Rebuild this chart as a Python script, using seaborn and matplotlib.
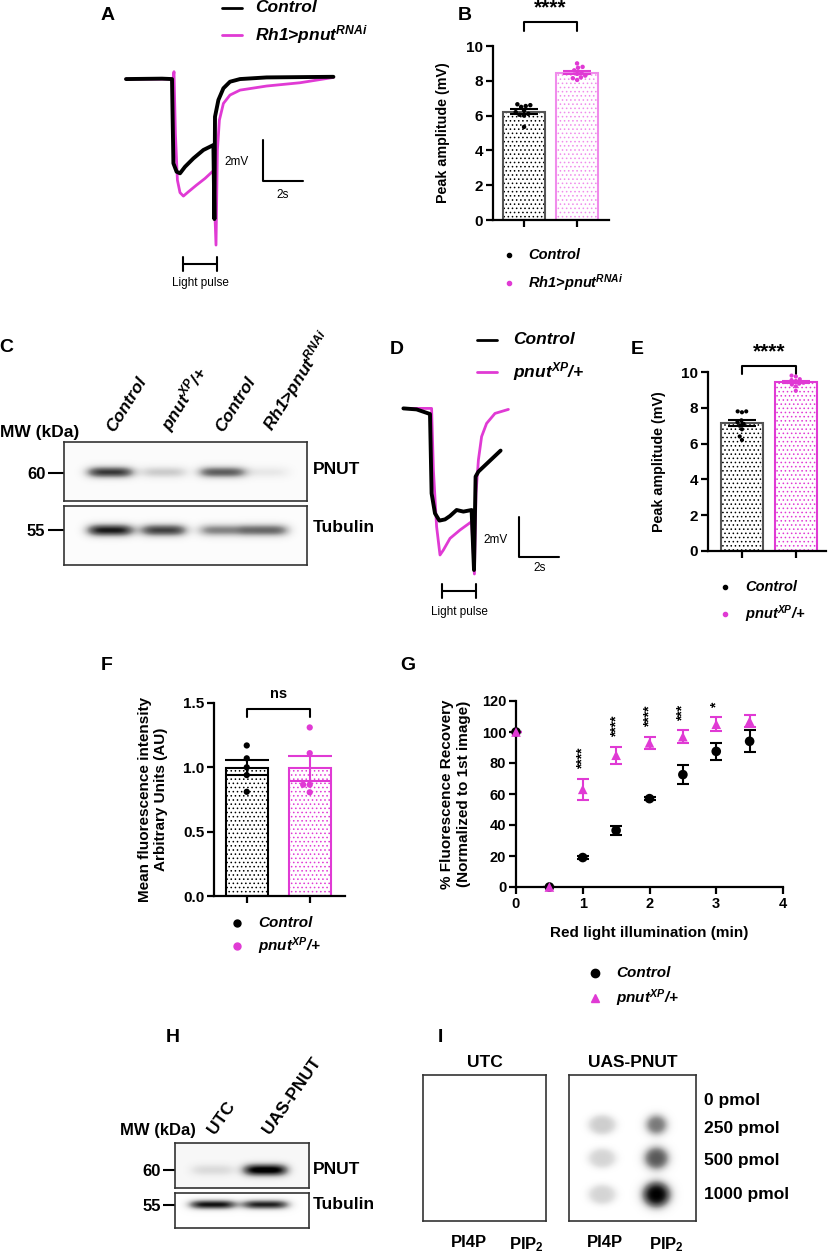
import numpy as np
import pandas as pd
import matplotlib.pyplot as plt
import seaborn as sns
from matplotlib.lines import Line2D

sns.set_theme(style="ticks", rc={"axes.edgecolor": "black", "xtick.color": "black",
                                 "ytick.color": "black", "axes.labelcolor": "black",
                                 "text.color": "black"})
plt.rcParams["font.family"] = ["Liberation Sans", "DejaVu Sans"]
plt.rcParams["font.weight"] = "bold"
plt.rcParams["axes.labelweight"] = "bold"
plt.rcParams["mathtext.fontset"] = "custom"
plt.rcParams["mathtext.rm"] = "Liberation Sans:bold"
plt.rcParams["mathtext.it"] = "Liberation Sans:italic:bold"
plt.rcParams["mathtext.bf"] = "Liberation Sans:bold"
plt.rcParams["hatch.linewidth"] = 0.6

MAG = "#E03AD4"
MAG_LIGHT = "#F08CEB"

# ---------------- data ----------------
# A: photoreceptor traces (time s, voltage mV)
a_ctrl_t = [-2.3, -0.5, 0.0, 0.07, 0.23, 0.4, 0.65, 1.07, 1.57, 2.07, 2.12, 2.15, 2.32, 2.57, 2.9, 3.4, 4.73, 8.07]
a_ctrl_v = [0.0, 0.02, 0.0, -4.11, -4.52, -4.6, -4.28, -3.87, -3.46, -3.22, -6.83, -1.84, -1.02, -0.45, -0.13, 0.0, 0.08, 0.11]
a_rnai_t = [-2.3, 0.05, 0.1, 0.17, 0.27, 0.4, 0.57, 0.82, 1.23, 1.65, 2.07, 2.2, 2.27, 2.37, 2.57, 2.9, 3.4, 4.73, 6.4, 8.07]
a_rnai_v = [0.0, 0.0, 0.36, -2.65, -4.93, -5.54, -5.71, -5.5, -5.17, -4.85, -4.47, -8.1, -3.46, -2.0, -1.19, -0.78, -0.54, -0.34, -0.18, 0.08]

# B: peak amplitude (mV)
b_ctrl = [6.65, 6.6, 6.55, 6.5, 6.3, 6.2, 6.1, 6.05, 6.0, 5.35]
b_rnai = [9.0, 8.8, 8.75, 8.6, 8.5, 8.4, 8.3, 8.2, 8.15, 8.05]

# C: western blot band intensity (0..1)
c_lanes = ["Control", "pnut$^{XP}$/+", "Control", "Rh1>pnut$^{RNAi}$"]
c_pnut = [0.8, 0.28, 0.68, 0.14]
c_tub = [0.9, 0.78, 0.55, 0.65]

# D: traces
d_ctrl_t = [-1.38, -0.72, -0.05, 0.03, 0.2, 0.42, 0.7, 0.95, 1.28, 1.62, 2.03, 2.15, 2.23, 2.37, 3.48]
d_ctrl_v = [0.03, -0.02, -0.25, -4.22, -5.22, -5.58, -5.52, -5.35, -5.05, -5.13, -5.05, -8.05, -3.38, -3.13, -2.08]
d_pnut_t = [-1.38, 0.03, 0.12, 0.28, 0.45, 0.62, 0.95, 1.45, 2.03, 2.17, 2.25, 2.37, 2.53, 2.78, 3.2, 3.87]
d_pnut_v = [0.03, 0.03, -3.05, -5.88, -7.3, -7.05, -6.47, -6.05, -5.63, -8.25, -4.22, -2.55, -1.38, -0.72, -0.22, -0.02]

# E: peak amplitude (mV)
e_ctrl = [7.8, 7.75, 7.8, 7.3, 7.2, 7.1, 7.0, 6.8, 6.4, 6.2]
e_pnut = [9.8, 9.75, 9.6, 9.55, 9.5, 9.4, 9.35, 9.3, 9.2, 8.95]

# F: mean fluorescence intensity (AU)
f_ctrl = [1.17, 1.07, 1.0, 0.94, 0.81]
f_pnut = [1.31, 1.11, 0.865, 0.865, 0.806]

# G: fluorescence recovery (%)
g_time = [0, 0.5, 1, 1.5, 2, 2.5, 3, 3.5]
g_ctrl = [100, 0, 19, 36.5, 57, 72.5, 87.5, 94]
g_ctrl_err = [0, 0, 1, 3, 1, 6, 5.5, 7]
g_pnut = [100, 0, 63, 85, 93, 97, 105, 107]
g_pnut_err = [0, 0, 7, 5.5, 4, 4, 4.5, 4]
g_star_idx = [2, 3, 4, 5, 6]
g_stars = ["****", "****", "****", "***", "*"]

# H: western blot
h_lanes = ["UTC", "UAS-PNUT"]
h_pnut = [0.18, 1.0]
h_tub = [0.95, 0.9]

# I: lipid dot blot
i_rows = ["0 pmol", "250 pmol", "500 pmol", "1000 pmol"]
i_cols = ["PI4P", "PIP$_2$"]
i_utc_pi4p = [0, 0, 0, 0]
i_utc_pip2 = [0, 0, 0, 0]
i_uas_pi4p = [0, 0.3, 0.27, 0.27]
i_uas_pip2 = [0, 0.6, 0.72, 1.0]

# ---------------- layout helpers ----------------
W, H = 830, 1255
fig = plt.figure(figsize=(W / 100, H / 100), dpi=100)


def px_axes(x0, y0, x1, y1):
    return fig.add_axes([x0 / W, 1 - y1 / H, (x1 - x0) / W, (y1 - y0) / H])


def ftext(x, y, s, **kw):
    fig.text(x / W, 1 - y / H, s, **kw)


def fmark(x, y, **kw):
    fig.add_artist(Line2D([x / W], [1 - y / H], transform=fig.transFigure, linestyle="none", **kw))


def fseg(x0, x1, y, **kw):
    fig.add_artist(Line2D([x0 / W, x1 / W], [1 - y / H, 1 - y / H], transform=fig.transFigure, **kw))


def style_axes(ax, labelsize):
    sns.despine(ax=ax)
    for s in ["left", "bottom"]:
        ax.spines[s].set_linewidth(1.6)
    ax.tick_params(width=1.6, length=5, labelsize=labelsize, pad=2)
    for lbl in ax.get_yticklabels() + ax.get_xticklabels():
        lbl.set_fontweight("bold")


def trace_panel(ax, traces, xlim, ylim, bar_t, bar_v, mv_pos, s_pos, pulse, pulse_y, pulse_txt):
    for t, v, c, lw in traces:
        sns.lineplot(x=t, y=v, color=c, linewidth=lw, sort=False, estimator=None, ax=ax)
    ax.set_xlim(*xlim)
    ax.set_ylim(*ylim)
    ax.axis("off")
    ax.plot([bar_t, bar_t, bar_t + 2], [bar_v + 2, bar_v, bar_v], color="black", lw=1.5)
    ax.text(*mv_pos, "2mV", ha="center", va="center", fontsize=8.5, fontweight="normal")
    ax.text(*s_pos, "2s", ha="center", va="center", fontsize=8.5, fontweight="normal")
    ax.plot(pulse, [pulse_y, pulse_y], color="black", lw=1.5)
    for p in pulse:
        ax.plot([p, p], [pulse_y - 0.35, pulse_y + 0.35], color="black", lw=1.5)
    ax.text(*pulse_txt, "Light pulse", ha="center", va="center", fontsize=8.5, fontweight="normal")


def bar_panel(ax, values, labels, edges, hatchc, ptc, width, ptsize, cap):
    df = pd.DataFrame({"group": np.repeat(labels, [len(v) for v in values]),
                       "value": np.concatenate(values)})
    sns.barplot(data=df, x="group", y="value", order=labels, errorbar=None,
                width=width, color="white", ax=ax, zorder=1)
    bars = list(ax.patches)
    for p, hc in zip(bars, hatchc):
        p.set_facecolor("white")
        p.set_edgecolor(hc)
        p.set_linewidth(0)
        p.set_hatch("....")
    for p, ec in zip(bars, edges):
        ax.add_patch(plt.Rectangle(p.get_xy(), p.get_width(), p.get_height(),
                                   fill=False, edgecolor=ec, lw=1.5, zorder=2))
    sns.swarmplot(data=df, x="group", y="value", order=labels, hue="group",
                  palette=dict(zip(labels, ptc)), size=ptsize, ax=ax, legend=False, zorder=3)
    stats = df.groupby("group")["value"].agg(["mean", "sem"]).loc[labels]
    for i, (m, s) in enumerate(stats.values):
        ax.errorbar(i, m, yerr=s, color=ptc[i], capsize=cap, elinewidth=1.5,
                    capthick=1.5, zorder=4)
    ax.set_xlabel("")
    ax.set_xticks([0, 1])
    ax.set_xticklabels([])


def bracket(ax, y0, y1, text, ty, size):
    ax.plot([0, 0, 1, 1], [y0, y1, y1, y0], color="black", lw=1.5, clip_on=False)
    ax.text(0.5, ty, text, ha="center", va="center", fontsize=size, clip_on=False)


def blot(ax, lane_x, band_y, levels, sx, sy, bg):
    yy, xx = np.mgrid[0:1:150j, 0:1:400j]
    img = np.full(xx.shape, bg)
    for xc, lv in zip(lane_x, levels):
        img = img + lv * np.exp(-((xx - xc) / sx) ** 4) * np.exp(-((yy - band_y) / sy) ** 2)
    ax.imshow(np.clip(img, 0, 1), cmap="Greys", vmin=0, vmax=1, extent=[0, 1, 1, 0],
              aspect="auto", interpolation="bilinear")
    ax.set_xlim(0, 1)
    ax.set_ylim(1, 0)
    ax.set_xticks([])
    for s in ax.spines.values():
        s.set_color("#333333")
        s.set_linewidth(1.2)


# ---------------- A ----------------
axA = px_axes(120, 60, 340, 300)
trace_panel(axA, [(a_rnai_t, a_rnai_v, MAG, 2.0), (a_ctrl_t, a_ctrl_v, "black", 2.8)],
            (-2.6, 8.4), (-10.78, 0.93), 4.55, -4.98, (3.25, -4.05), (5.55, -5.66),
            [0.55, 2.25], -9.02, (1.4, -9.95))
fseg(222, 242, 8, color="black", lw=2)
fseg(222, 242, 35, color=MAG, lw=2)
ftext(255, 8, "Control", style="italic", va="center", fontsize=12.5)
ftext(255, 35, "Rh1>pnut$^{RNAi}$", style="italic", va="center", fontsize=12.5)

# ---------------- B ----------------
axB = px_axes(493, 46, 609, 220)
bar_panel(axB, [b_ctrl, b_rnai], ["Control", "RNAi"], ["#555555", MAG_LIGHT],
          ["black", MAG_LIGHT], ["black", MAG], 0.8, 3.2, 10)
axB.set_xlim(-0.585, 1.6)
axB.set_ylim(0, 10)
axB.set_yticks([0, 2, 4, 6, 8, 10])
axB.set_ylabel("Peak amplitude (mV)", fontsize=10.3)
axB.yaxis.set_label_coords(-0.37, 0.5)
style_axes(axB, 11)
bracket(axB, 10.86, 11.38, "****", 12.2, 15)
for y, c, lab in [(255, "black", "Control"), (283, MAG, "Rh1>pnut$^{RNAi}$")]:
    fmark(509, y, marker="o", color=c, markersize=3)
    ftext(528, y, lab, style="italic", va="center", fontsize=10.5)

# ---------------- C ----------------
lane_c = [0.19, 0.41, 0.65, 0.83]
axC1 = px_axes(64, 442, 307, 501)
blot(axC1, lane_c, 0.52, c_pnut, 0.1, 0.1, 0.03)
axC2 = px_axes(64, 506, 307, 565)
blot(axC2, lane_c, 0.41, c_tub, 0.1, 0.11, 0.02)
for ax, mw, name, by in [(axC1, "60", "PNUT", 0.52), (axC2, "55", "Tubulin", 0.41)]:
    ax.set_yticks([by])
    ax.set_yticklabels([mw])
    ax.tick_params(axis="y", length=11.5, width=1.5, labelsize=12, pad=2)
    ax.text(1.025, by - 0.05, name, transform=ax.get_yaxis_transform(), va="center", fontsize=12.5)
for xf, lab in zip([0.215, 0.455, 0.665, 0.875], c_lanes):
    axC1.text(xf, 1.12, lab, transform=axC1.transAxes, rotation=58, rotation_mode="anchor",
              ha="left", va="bottom", fontsize=12.5, style="italic")
ftext(0, 433, "MW (kDa)", va="center", fontsize=12.5)

# ---------------- D ----------------
axD = px_axes(395, 395, 565, 620)
trace_panel(axD, [(d_pnut_t, d_pnut_v, MAG, 2.0), (d_ctrl_t, d_ctrl_v, "black", 2.8)],
            (-1.8, 6.7), (-10.55, 0.7), 4.4, -7.4, (3.25, -6.55), (5.45, -7.95),
            [0.55, 2.25], -9.1, (1.4, -10.15))
fseg(477, 497, 340, color="black", lw=2)
fseg(477, 497, 372, color=MAG, lw=2)
ftext(513, 340, "Control", style="italic", va="center", fontsize=12.5)
ftext(513, 372, "pnut$^{XP}$/+", style="italic", va="center", fontsize=12.5)

# ---------------- E ----------------
axE = px_axes(708, 372, 826, 551)
bar_panel(axE, [e_ctrl, e_pnut], ["Control", "pnut"], ["#555555", MAG],
          ["black", MAG], ["black", MAG], 0.78, 3.0, 10)
axE.set_xlim(-0.63, 1.56)
axE.set_ylim(0, 10)
axE.set_yticks([0, 2, 4, 6, 8, 10])
axE.set_ylabel("Peak amplitude (mV)", fontsize=10.3)
axE.yaxis.set_label_coords(-0.356, 0.5)
style_axes(axE, 11)
bracket(axE, 9.9, 10.34, "****", 11.1, 15)
for y, c, lab in [(587, "black", "Control"), (614, MAG, "pnut$^{XP}$/+")]:
    fmark(725, y, marker="o", color=c, markersize=3)
    ftext(745, y, lab, style="italic", va="center", fontsize=10.5)

# ---------------- F ----------------
axF = px_axes(214, 703, 345, 896)
bar_panel(axF, [f_ctrl, f_pnut], ["Control", "pnut"], ["black", MAG],
          ["black", MAG], ["black", MAG], 0.67, 4.5, 16)
axF.set_xlim(-0.52, 1.56)
axF.set_ylim(0, 1.5)
axF.set_yticks([0, 0.5, 1.0, 1.5])
axF.set_ylabel("Mean fluorescence intensity\nArbitrary Units (AU)", fontsize=11)
axF.yaxis.set_label_coords(-0.35, 0.5)
style_axes(axF, 11)
bracket(axF, 1.39, 1.453, "ns", 1.57, 10.5)
for y, c, lab in [(923, "black", "Control"), (946, MAG, "pnut$^{XP}$/+")]:
    fmark(237, y, marker="o", color=c, markersize=5)
    ftext(258, y, lab, style="italic", va="center", fontsize=11)

# ---------------- G ----------------
axG = px_axes(516, 701, 783, 887)
g_df = pd.DataFrame({"time": g_time + g_time, "recovery": g_ctrl + g_pnut,
                     "group": ["Control"] * len(g_time) + ["pnut"] * len(g_time)})
axG.errorbar(g_time, g_ctrl, yerr=g_ctrl_err, fmt="none", ecolor="black", capsize=4,
             elinewidth=1.5, capthick=1.5, zorder=2)
axG.errorbar(g_time, g_pnut, yerr=g_pnut_err, fmt="none", ecolor=MAG, capsize=4,
             elinewidth=1.5, capthick=1.5, zorder=2)
sns.scatterplot(data=g_df, x="time", y="recovery", hue="group", style="group",
                palette={"Control": "black", "pnut": MAG}, markers={"Control": "o", "pnut": "^"},
                s=48, edgecolor="none", ax=axG, legend=False, clip_on=False, zorder=3)
for i, st in zip(g_star_idx, g_stars):
    axG.text(g_time[i], g_pnut[i] + g_pnut_err[i] + 6, st, rotation=90, ha="center",
             va="bottom", fontsize=10)
axG.set_xlim(0, 4)
axG.set_ylim(0, 120)
axG.set_xticks([0, 1, 2, 3, 4])
axG.set_yticks(range(0, 121, 20))
axG.set_xlabel("Red light illumination (min)", fontsize=11, labelpad=11)
axG.set_ylabel("% Fluorescence Recovery\n(Normalized to 1st image)", fontsize=11)
axG.yaxis.set_label_coords(-0.17, 0.5)
style_axes(axG, 10.5)
fmark(595, 973, marker="o", color="black", markersize=6)
fmark(595, 998, marker="^", color=MAG, markersize=6)
ftext(616, 973, "Control", style="italic", va="center", fontsize=11)
ftext(616, 998, "pnut$^{XP}$/+", style="italic", va="center", fontsize=11)

# ---------------- H ----------------
lane_h = [0.28, 0.67]
axH1 = px_axes(175, 1143, 309, 1188)
blot(axH1, lane_h, 0.6, h_pnut, 0.17, 0.14, 0.06)
axH2 = px_axes(175, 1193, 309, 1228)
blot(axH2, lane_h, 0.33, h_tub, 0.18, 0.14, 0.0)
for ax, mw, name, by in [(axH1, "60", "PNUT", 0.6), (axH2, "55", "Tubulin", 0.33)]:
    ax.set_yticks([by])
    ax.set_yticklabels([mw])
    ax.tick_params(axis="y", length=9, width=1.5, labelsize=12, pad=1)
    ax.text(1.03, by, name, transform=ax.get_yaxis_transform(), va="center", fontsize=12.5)
for xf, lab in zip([0.32, 0.73], h_lanes):
    axH1.text(xf, 1.13, lab, transform=axH1.transAxes, rotation=55, rotation_mode="anchor",
              ha="left", va="bottom", fontsize=12.5)
ftext(120, 1131, "MW (kDa)", va="center", fontsize=12)

# ---------------- I ----------------
rows_y = [0.16, 0.34, 0.57, 0.82]
cols_x = [0.26, 0.69]
for box, title, p4, p2 in [((423, 1075, 546, 1221), "UTC", i_utc_pi4p, i_utc_pip2),
                           ((569, 1075, 696, 1221), "UAS-PNUT", i_uas_pi4p, i_uas_pip2)]:
    ax = px_axes(*box)
    yy, xx = np.mgrid[0:1:200j, 0:1:180j]
    img = np.zeros(xx.shape)
    for k, (ry, a, b) in enumerate(zip(rows_y, p4, p2)):
        img = img + a * np.exp(-(((xx - cols_x[0]) / 0.12) ** 2 + ((yy - ry) / 0.075) ** 2) ** 2)
        r = 0.085 + 0.012 * k
        img = img + b * np.exp(-(((xx - cols_x[1]) / r) ** 2 + ((yy - ry) / (0.8 * r)) ** 2) ** 1.5)
    ax.imshow(np.clip(img, 0, 1), cmap="Greys", vmin=0, vmax=1, extent=[0, 1, 1, 0],
              aspect="auto", interpolation="bilinear")
    ax.set_xlim(0, 1)
    ax.set_ylim(1, 0)
    ax.set_xticks([0.37, 0.84] if title == "UTC" else [0.28, 0.77])
    ax.set_xticklabels(i_cols)
    ax.tick_params(axis="x", length=0, pad=10, labelsize=12)
    ax.set_title(title, fontsize=12.5, fontweight="bold", pad=6)
    if title == "UTC":
        ax.set_yticks([])
    else:
        ax.yaxis.tick_right()
        ax.set_yticks([0.164, 0.356, 0.575, 0.808])
        ax.set_yticklabels(i_rows)
        ax.tick_params(axis="y", length=0, pad=6, labelsize=12.5)
    for s in ax.spines.values():
        s.set_color("#333333")
        s.set_linewidth(1.2)

# ---------------- panel letters ----------------
for lt, x, y in [("A", 108, 15), ("B", 465, 15), ("C", 6, 348), ("D", 397, 350), ("E", 637, 350),
                 ("F", 107, 665), ("G", 408, 665), ("H", 173, 1038), ("I", 440, 1038)]:
    ftext(x, y, lt, ha="center", va="center", fontsize=14)

fig.savefig("out.png", dpi=100)
